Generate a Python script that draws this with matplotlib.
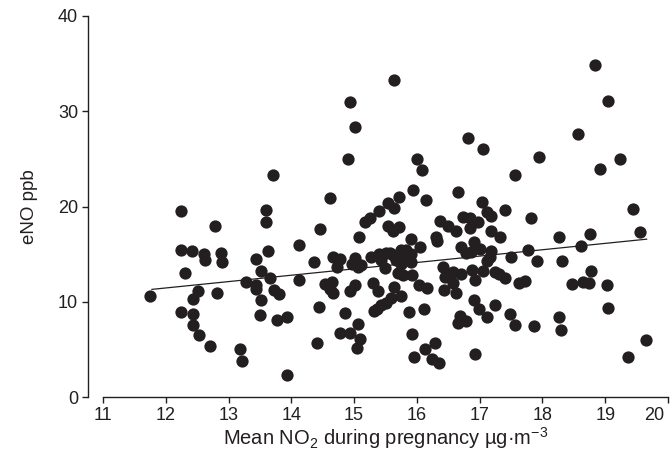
import matplotlib
matplotlib.use("Agg")
import matplotlib.pyplot as plt
import matplotlib.transforms as mtransforms

plt.rcParams['font.family'] = ['Liberation Sans', 'DejaVu Sans']
plt.rcParams['mathtext.default'] = 'regular'

# mean NO2 during pregnancy (ug/m3) and exhaled NO (ppb)
no2 = [11.75, 12.25, 12.25, 12.25, 12.31, 12.41, 12.43, 12.43, 12.44, 12.51,
       12.53, 12.61, 12.62, 12.71, 12.79, 12.81, 12.88, 12.90, 13.18, 13.22,
       13.27, 13.43, 13.44, 13.44, 13.50, 13.52, 13.52, 13.60, 13.60, 13.63,
       13.66, 13.70, 13.73, 13.77, 13.81, 13.93, 13.93, 14.12, 14.12, 14.36,
       14.41, 14.44, 14.45, 14.53, 14.64, 14.61, 14.61, 14.66, 14.67, 14.73,
       14.77, 14.77, 14.86, 14.90, 14.93, 14.93, 14.94, 14.96, 15.01, 15.02,
       15.02, 15.04, 15.06, 15.06, 15.07, 15.10, 15.11, 15.17, 15.25, 15.27,
       15.30, 15.31, 15.36, 15.38, 15.39, 15.40, 15.43, 15.43, 15.49, 15.51,
       15.51, 15.54, 15.54, 15.57, 15.59, 15.62, 15.62, 15.63, 15.63, 15.64,
       15.67, 15.70, 15.72, 15.72, 15.74, 15.75, 15.75, 15.78, 15.80, 15.83,
       15.87, 15.91, 15.91, 15.91, 15.93, 15.93, 15.94, 15.95, 16.00, 16.03,
       16.05, 16.08, 16.11, 16.13, 16.15, 16.16, 16.24, 16.29, 16.31, 16.32,
       16.36, 16.37, 16.41, 16.44, 16.43, 16.50, 16.57, 16.57, 16.63, 16.63,
       16.65, 16.66, 16.68, 16.70, 16.70, 16.73, 16.79, 16.79, 16.81, 16.84,
       16.85, 16.86, 16.87, 16.91, 16.91, 16.93, 16.93, 16.97, 16.99, 17.00,
       17.03, 17.05, 17.06, 17.11, 17.12, 17.12, 17.17, 17.18, 17.18, 17.18,
       17.24, 17.25, 17.31, 17.33, 17.41, 17.41, 17.48, 17.50, 17.56, 17.56,
       17.62, 17.73, 17.77, 17.81, 17.86, 17.92, 17.94, 18.27, 18.26, 18.30,
       18.31, 18.47, 18.56, 18.62, 18.64, 18.74, 18.76, 18.78, 18.84, 18.91,
       19.03, 19.04, 19.05, 19.24, 19.36, 19.44, 19.56, 19.65]
eno = [10.6, 19.5, 15.4, 8.9, 13.0, 15.3, 8.7, 7.6, 10.3, 11.1,
       6.5, 15.0, 14.4, 5.4, 18.0, 10.9, 15.1, 14.2, 5.0, 3.8,
       12.1, 14.5, 11.8, 11.3, 8.6, 13.2, 10.2, 19.6, 18.4, 15.3,
       12.5, 23.3, 11.2, 8.1, 10.8, 8.4, 2.3, 16.0, 12.3, 14.2,
       5.7, 9.5, 17.6, 11.9, 12.1, 20.9, 11.3, 10.9, 14.7, 13.6,
       14.5, 6.7, 8.8, 25.0, 31.0, 11.1, 6.7, 14.0, 14.6, 11.8,
       28.3, 5.1, 7.7, 13.6, 16.8, 6.1, 13.9, 18.4, 18.8, 14.7,
       12.0, 9.0, 9.2, 11.1, 15.0, 19.5, 14.4, 9.7, 13.5, 15.1,
       9.9, 20.4, 18.0, 15.1, 10.4, 17.4, 14.9, 33.3, 11.6, 19.8,
       14.4, 13.0, 21.0, 17.9, 10.6, 15.4, 14.0, 12.8, 14.4, 15.4,
       8.9, 16.6, 15.0, 14.2, 12.8, 6.6, 21.7, 4.2, 25.0, 11.8,
       15.7, 23.8, 9.2, 5.0, 20.7, 11.4, 4.0, 5.7, 16.8, 16.4,
       3.6, 18.5, 13.7, 12.6, 11.2, 18.0, 13.1, 12.0, 17.4, 10.9,
       21.5, 7.8, 8.5, 15.8, 12.9, 18.9, 15.1, 8.0, 27.2, 18.8,
       17.7, 15.2, 13.3, 16.3, 10.2, 12.3, 4.5, 18.4, 9.2, 15.5,
       20.5, 26.0, 13.2, 8.4, 19.4, 14.3, 14.7, 19.0, 17.4, 15.3,
       13.1, 9.7, 12.9, 16.8, 19.6, 12.5, 8.7, 14.7, 23.3, 7.6,
       12.0, 12.2, 15.4, 18.8, 7.5, 14.3, 25.2, 16.8, 8.4, 7.0,
       14.3, 11.9, 27.6, 15.9, 12.1, 12.0, 17.1, 13.2, 34.9, 23.9,
       11.8, 31.1, 9.3, 25.0, 4.2, 19.7, 17.3, 6.0]

# fitted line end points
fit_x = [11.78, 19.66]
fit_y = [11.3, 16.57]

ink = '#231f20'

fig = plt.figure(figsize=(6.72, 4.55), dpi=100)
ax = fig.add_axes([103 / 672, 1 - 397 / 455, 565 / 672, 381 / 455])

ax.scatter(no2, eno, s=78, color=ink, linewidths=0, zorder=3)
ax.plot(fit_x, fit_y, color=ink, lw=0.9, zorder=2)

ax.set_xlim(11, 20)
ax.set_ylim(0, 40)
ax.set_xticks(range(11, 21))
ax.set_yticks([0, 10, 20, 30, 40])

for side in ['top', 'right']:
    ax.spines[side].set_visible(False)
ax.spines['left'].set_position(('outward', 11))
for side in ['left', 'bottom']:
    ax.spines[side].set_color(ink)
    ax.spines[side].set_linewidth(1.0)

ax.tick_params(axis='both', length=4, width=1.0, color=ink, labelcolor=ink,
               labelsize=13, pad=3)

# last x label sits a little left of its tick so it stays inside the figure
last = ax.get_xticklabels()[-1]
last.set_transform(last.get_transform() + mtransforms.ScaledTranslation(-10 / 72, 0, fig.dpi_scale_trans))

ax.set_xlabel('Mean NO$_2$ during pregnancy µg·m$^{-3}$', fontsize=14.5, color=ink, labelpad=1)
ax.set_ylabel('eNO ppb', fontsize=13.5, color=ink, labelpad=14)

fig.savefig('out.png', dpi=100)
